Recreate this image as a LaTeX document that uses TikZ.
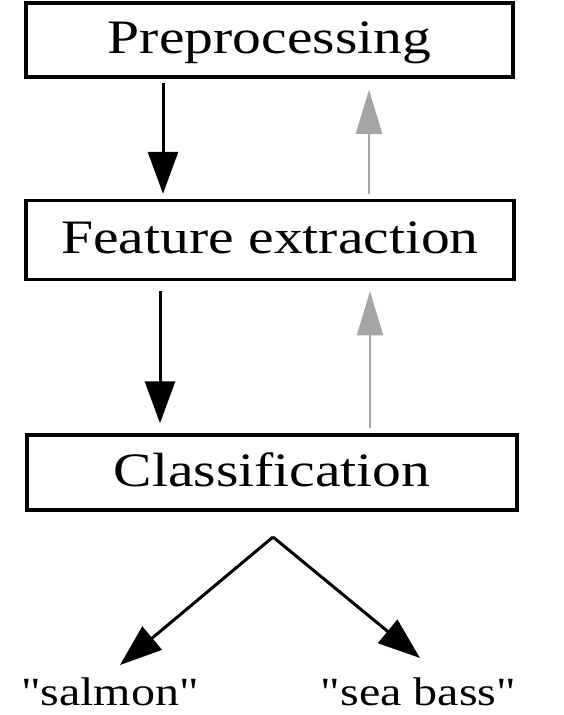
\documentclass[tikz,border=0pt]{standalone}
\usepackage{fontspec}
\setmainfont[FakeStretch=1.2, Ligatures=TeXOff]{Liberation Serif}
\usetikzlibrary{arrows.meta,calc}
\definecolor{fbgray}{RGB}{165,165,165}
\begin{document}
\begin{tikzpicture}[x=1pt,y=-1pt,
  stage/.style={draw, line width=3.5pt, inner sep=0pt,
    font=\fontsize{48}{50}\selectfont, text height=33pt, text depth=6pt},
  fwd/.style={line width=3pt, -{Triangle[length=42pt,width=30pt]}},
  back/.style={draw=fbgray, line width=2pt, -{Triangle[length=44pt,width=26pt]}},
  lab/.style={font=\fontsize{40}{42}\selectfont, anchor=base, inner sep=0pt}]
\useasboundingbox (0,0) rectangle (564,715);

\node[stage, minimum width=487pt, minimum height=74pt] (pre) at (269.5,40) {Preprocessing};
\node[stage, minimum width=488pt, minimum height=79pt] (fe) at (270,240) {Feature extraction};
\node[stage, minimum width=490pt, minimum height=75pt] (cl) at (272,472.5) {Classification};

\coordinate (xa) at (163,0);
\coordinate (xb) at (369,0);
\coordinate (xc) at (160,0);
\coordinate (xd) at (370,0);

\draw[fwd, shorten <=4pt, shorten >=5pt] (pre.south -| xa) -- (fe.north -| xa);
\draw[back, line width=2.6pt, shorten <=5pt, shorten >=11pt] (fe.north -| xb) -- (pre.south -| xb);
\draw[fwd, shorten <=10pt, shorten >=10pt] (fe.south -| xc) -- (cl.north -| xc);
\draw[back, shorten <=5pt, shorten >=10pt] (cl.north -| xd) -- (fe.south -| xd);

\node[lab] (salmon) at (110,705) {"salmon"};
\node[lab] (seabass) at (418.5,705) {"sea bass"};

\coordinate (apex) at (273,537);
\coordinate (tl) at (120,665);
\coordinate (tr) at (420,658);
\draw[fwd] (apex) -- (tl);
\draw[fwd] (apex) -- (tr);
\end{tikzpicture}
\end{document}
